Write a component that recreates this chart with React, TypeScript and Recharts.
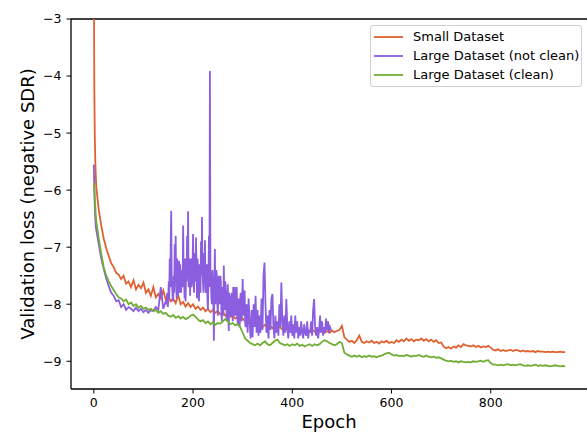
import React from 'react';
import { LineChart, Line, XAxis, YAxis, ReferenceLine } from 'recharts';

const COLORS = { small: '#e0602f', noisy: '#8b5ee0', clean: '#70ad34' };
const FONT = '"DejaVu Sans", sans-serif';

const seriesNames = ['Small Dataset', 'Large Dataset (not clean)', 'Large Dataset (clean)'];
const xTicks = [0, 200, 400, 600, 800];
const yTicks = [-9, -8, -7, -6, -5, -4, -3];

// Small dataset: epochs 0..4, then every 5 epochs from 5 to 950
const smallHead = [-2.0, -4.2, -5.1, -5.5, -5.75];
const smallLoss = [
  -5.95, -6.35, -6.62, -6.85, -7.02, -7.15, -7.28, -7.35, -7.45, -7.48,
  -7.56, -7.5, -7.64, -7.6, -7.7, -7.58, -7.74, -7.66, -7.72, -7.62,
  -7.8, -7.74, -7.85, -7.7, -7.88, -7.82, -7.9, -7.76, -7.92, -7.86,
  -7.95, -7.9, -7.98, -7.84, -8.0, -7.96, -8.04, -7.98, -8.05, -8.0,
  -8.08, -8.04, -8.1, -8.06, -8.12, -8.08, -8.14, -8.1, -8.15, -8.12,
  -8.18, -8.14, -8.2, -8.16, -8.22, -8.2, -8.25, -8.22, -8.28, -8.25,
  -8.3, -8.34, -8.3, -8.36, -8.33, -8.38, -8.35, -8.4, -8.36, -8.4,
  -8.38, -8.42, -8.38, -8.43, -8.4, -8.44, -8.41, -8.45, -8.42, -8.44,
  -8.46, -8.42, -8.47, -8.44, -8.48, -8.45, -8.47, -8.44, -8.48, -8.46,
  -8.48, -8.45, -8.5, -8.47, -8.5, -8.46, -8.49, -8.47, -8.45, -8.38,
  -8.58, -8.62, -8.66, -8.64, -8.68, -8.63, -8.55, -8.66, -8.68, -8.65,
  -8.67, -8.64, -8.68, -8.66, -8.69, -8.65, -8.67, -8.64, -8.68, -8.66,
  -8.68, -8.63, -8.66, -8.62, -8.65, -8.6, -8.64, -8.61, -8.65, -8.62,
  -8.63, -8.6, -8.64, -8.61, -8.65, -8.62, -8.66, -8.63, -8.68, -8.67,
  -8.74, -8.77, -8.75, -8.78, -8.74, -8.76, -8.72, -8.75, -8.7, -8.72,
  -8.73, -8.74, -8.72, -8.75, -8.73, -8.76, -8.74, -8.75, -8.73, -8.76,
  -8.8, -8.81, -8.79, -8.82, -8.8, -8.82, -8.81, -8.8, -8.82, -8.8,
  -8.81, -8.83, -8.81, -8.83, -8.82, -8.83, -8.82, -8.84, -8.82, -8.83,
  -8.83, -8.84, -8.83, -8.84, -8.83, -8.84, -8.84, -8.83, -8.84, -8.84,
];

// Large dataset (clean): epochs 0..4, then every 5 epochs from 5 to 950
const cleanHead = [-5.88, -5.95, -6.15, -6.3, -6.45];
const cleanLoss = [
  -6.55, -6.85, -7.12, -7.35, -7.5, -7.6, -7.68, -7.75, -7.82, -7.88,
  -7.9, -7.95, -7.92, -8.0, -7.97, -8.03, -8.0, -8.06, -8.03, -8.08,
  -8.06, -8.1, -8.08, -8.12, -8.1, -8.15, -8.12, -8.17, -8.15, -8.2,
  -8.22, -8.19, -8.24, -8.21, -8.25, -8.22, -8.26, -8.24, -8.2, -8.18,
  -8.22, -8.27, -8.3, -8.28, -8.33, -8.3, -8.35, -8.32, -8.36, -8.33,
  -8.34, -8.3, -8.26, -8.3, -8.35, -8.33, -8.37, -8.35, -8.4, -8.5,
  -8.6, -8.64, -8.68, -8.7, -8.72, -8.69, -8.72, -8.68, -8.65, -8.7,
  -8.72, -8.68, -8.64, -8.62, -8.68, -8.7, -8.72, -8.7, -8.73, -8.7,
  -8.72, -8.69, -8.73, -8.71, -8.74, -8.72, -8.7, -8.73, -8.7, -8.72,
  -8.7, -8.66, -8.63, -8.65, -8.68, -8.7, -8.72, -8.7, -8.66, -8.68,
  -8.85, -8.88, -8.9, -8.92, -8.9, -8.92, -8.9, -8.93, -8.91, -8.92,
  -8.9, -8.92, -8.91, -8.93, -8.91, -8.9, -8.88, -8.86, -8.85, -8.88,
  -8.9, -8.89, -8.91, -8.9, -8.91, -8.89, -8.9, -8.92, -8.9, -8.91,
  -8.89, -8.91, -8.92, -8.9, -8.92, -8.93, -8.92, -8.94, -8.93, -8.95,
  -8.97, -8.99, -9.0, -8.99, -9.01, -9.0, -9.02, -9.0, -9.01, -9.02,
  -9.01, -9.02, -9.0, -9.01, -9.0, -8.99, -9.01, -8.99, -8.98, -9.03,
  -9.06, -9.06, -9.07, -9.06, -9.07, -9.06, -9.05, -9.07, -9.06, -9.07,
  -9.06, -9.05, -9.07, -9.08, -9.07, -9.08, -9.07, -9.06, -9.08, -9.07,
  -9.08, -9.07, -9.08, -9.09, -9.08, -9.07, -9.08, -9.09, -9.08, -9.09,
];

// Large dataset (not clean): epochs 0..4, every 5 epochs 5..145,
// every epoch 146..305, then every 2 epochs 306..478
const noisyHead = [-5.55, -6.0, -6.3, -6.5, -6.65];
const noisyEarly = [
  -6.7, -6.95, -7.2, -7.38, -7.55, -7.68, -7.8, -7.85, -7.95, -7.93,
  -8.05, -8.0, -8.1, -8.05, -8.08, -8.12, -8.06, -8.12, -8.08, -8.14,
  -8.1, -8.15, -8.1, -8.12, -8.05, -8.1, -7.7, -8.08, -7.95,
];
const noisyMid = [
  -8.0, -7.9, -7.8, -8.05, -7.95, -7.6, -7.9, -7.2, -7.7, -6.9,
  -6.36, -7.6, -7.7, -7.95, -7.9, -7.5, -7.8, -6.95, -7.6, -6.8,
  -7.7, -7.9, -7.2, -7.6, -7.85, -7.5, -7.24, -7.8, -7.3, -7.6,
  -7.8, -7.5, -7.4, -7.7, -6.62, -7.5, -7.6, -7.9, -7.2, -7.95,
  -7.3, -7.6, -6.8, -7.5, -6.37, -7.7, -7.5, -7.2, -7.85, -7.4,
  -7.2, -7.7, -7.6, -7.3, -6.77, -7.5, -7.8, -7.1, -7.3, -7.6,
  -6.83, -7.5, -7.9, -7.2, -7.4, -7.7, -7.95, -7.3, -7.5, -7.8,
  -6.9, -7.5, -6.47, -7.4, -7.6, -7.8, -7.1, -7.6, -6.88, -7.7,
  -7.8, -7.4, -7.3, -7.9, -8.1, -7.6, -6.8, -7.7, -3.91, -7.4,
  -7.6, -7.9, -8.0, -7.4, -7.6, -8.0, -8.64, -7.7, -7.03, -8.0,
  -7.8, -7.4, -7.5, -8.0, -8.2, -7.7, -7.5, -7.9, -8.0, -7.5,
  -7.6, -8.1, -8.3, -7.8, -7.7, -8.2, -7.32, -7.9, -8.1, -7.6,
  -7.8, -8.0, -8.3, -7.9, -7.65, -8.1, -8.47, -7.8, -7.9, -8.2,
  -8.2, -7.9, -7.8, -8.1, -8.3, -7.7, -8.0, -8.2, -7.7, -8.0,
  -8.2, -7.9, -7.7, -8.1, -8.35, -8.0, -7.9, -8.3, -8.4, -7.9,
  -7.8, -8.2, -8.3, -7.9, -7.56, -8.1, -8.2, -7.9, -7.76, -8.3,
];
const noisyLate = [
  -8.4, -8.0, -8.5, -7.9, -8.3, -8.6, -8.1, -8.58, -8.0, -8.4,
  -7.85, -8.5, -8.1, -8.55, -8.2, -8.5, -7.9, -8.45, -7.5, -7.27,
  -8.0, -8.5, -8.2, -8.6, -8.1, -8.45, -7.9, -7.82, -8.4, -8.6,
  -8.2, -8.5, -8.3, -8.55, -8.0, -8.4, -7.62, -8.3, -8.55, -8.2,
  -8.5, -7.91, -8.4, -8.6, -8.3, -8.5, -8.2, -8.55, -8.35, -8.6,
  -8.2, -8.5, -8.3, -8.6, -8.4, -8.55, -8.3, -8.5, -8.6, -8.35,
  -8.5, -8.55, -8.3, -8.6, -8.45, -8.5, -8.3, -8.55, -8.1, -7.91,
  -8.4, -8.55, -8.4, -8.6, -8.45, -8.2, -8.5, -8.3, -8.55, -8.4,
  -8.5, -8.25, -8.45, -8.3, -8.5, -8.4, -8.45,
];

type Pt = { x: number; y: number };
function segment(values: number[], start: number, step: number): Pt[] {
  return values.map((v, i) => ({ x: start + i * step, y: v }));
}

const smallData = [...segment(smallHead, 0, 1), ...segment(smallLoss, 5, 5)];
const cleanData = [...segment(cleanHead, 0, 1), ...segment(cleanLoss, 5, 5)];
const noisyData = [
  ...segment(noisyHead, 0, 1),
  ...segment(noisyEarly, 5, 5),
  ...segment(noisyMid, 146, 1),
  ...segment(noisyLate, 306, 2),
];

const fmt = (v: number) => (v < 0 ? '\u2212' + Math.abs(v) : String(v));

const legendColors = [COLORS.small, COLORS.noisy, COLORS.clean];

const LegendBox = () => (
  <div
    style={{
      position: 'absolute',
      left: 370,
      top: 25,
      width: 210,
      height: 59,
      border: '1px solid #d0d0d0',
      borderRadius: 3,
      background: 'rgba(255,255,255,0.85)',
      fontFamily: FONT,
      fontSize: 13,
      color: '#000',
      boxSizing: 'content-box',
      paddingTop: 1,
    }}
  >
    {seriesNames.map((n, i) => (
      <div key={n} style={{ display: 'flex', alignItems: 'center', height: 19, lineHeight: '19px' }}>
        <svg width={29} height={4} style={{ marginLeft: 3, marginRight: 10 }}>
          <line x1={0} y1={2} x2={29} y2={2} stroke={legendColors[i]} strokeWidth={1.8} />
        </svg>
        <span style={{ whiteSpace: 'nowrap' }}>{n}</span>
      </div>
    ))}
  </div>
);

export default function App() {
  return (
    <div style={{ position: 'absolute', left: 0, top: 0, width: 587, height: 433, background: '#fff' }}>
      <LineChart width={587} height={433} margin={{ top: 19, right: 0, bottom: 0, left: 0 }}>
        <XAxis
          type="number"
          dataKey="x"
          domain={[-46, 994]}
          ticks={xTicks}
          allowDataOverflow
          height={44}
          tickSize={4.5}
          tickMargin={5}
          tickLine={{ stroke: '#000', strokeWidth: 1 }}
          axisLine={{ stroke: '#000', strokeWidth: 1.3 }}
          tick={{ fill: '#000', fontSize: 12.5, fontFamily: FONT }}
          label={{
            value: 'Epoch',
            content: (p: any) => {
              const vb = p.viewBox || {};
              return (
                <text x={vb.x + vb.width / 2} y={428} textAnchor="middle" fontSize={18} fontFamily={FONT} fill="#000">
                  Epoch
                </text>
              );
            },
          }}
        />
        <YAxis
          type="number"
          domain={[-9.486, -3]}
          ticks={yTicks}
          allowDataOverflow
          width={71}
          tickSize={4.5}
          tickMargin={5}
          tickFormatter={fmt}
          tickLine={{ stroke: '#000', strokeWidth: 1 }}
          axisLine={{ stroke: '#000', strokeWidth: 1.3 }}
          tick={{ fill: '#000', fontSize: 12.5, fontFamily: FONT }}
          label={{
            value: 'Validation loss (negative SDR)',
            content: (p: any) => {
              const vb = p.viewBox || {};
              const cy = vb.y + vb.height / 2;
              return (
                <text
                  x={34}
                  y={cy}
                  transform={`rotate(-90, 34, ${cy})`}
                  textAnchor="middle"
                  fontSize={18}
                  fontFamily={FONT}
                  fill="#000"
                >
                  Validation loss (negative SDR)
                </text>
              );
            },
          }}
        />
        <ReferenceLine y={-3} stroke="#000" strokeWidth={1.3} />
        <Line data={smallData} dataKey="y" name={seriesNames[0]} stroke={COLORS.small} strokeWidth={1.8} dot={false} isAnimationActive={false} type="linear" />
        <Line data={noisyData} dataKey="y" name={seriesNames[1]} stroke={COLORS.noisy} strokeWidth={1.8} dot={false} isAnimationActive={false} type="linear" />
        <Line data={cleanData} dataKey="y" name={seriesNames[2]} stroke={COLORS.clean} strokeWidth={1.8} dot={false} isAnimationActive={false} type="linear" />
      </LineChart>
      <LegendBox />
    </div>
  );
}
